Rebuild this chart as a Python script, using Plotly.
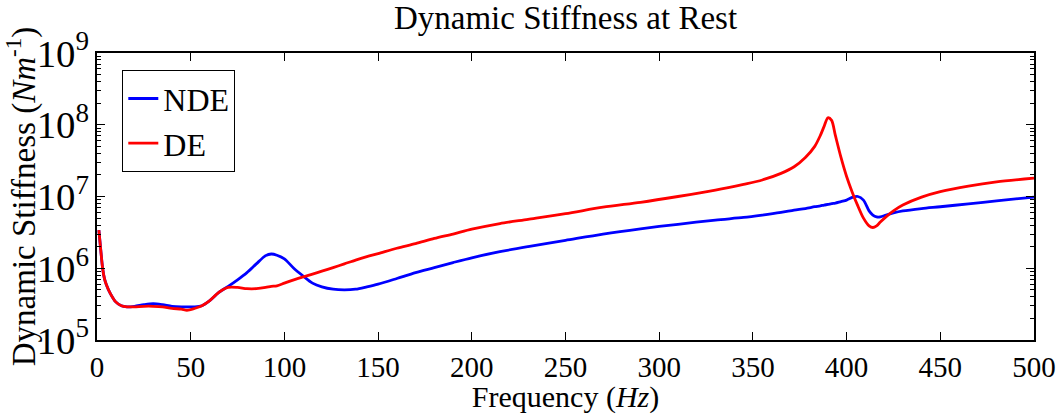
import plotly.graph_objects as go

# Frequency axis (Hz)
freq = [1, 2, 3, 4, 5, 7, 10, 13, 16, 20, 25, 30, 35, 40, 45, 48, 52, 56, 60, 65,
        70, 75, 80, 85, 90, 93, 96, 100, 105, 110, 115, 120, 126, 132, 138, 144,
        150, 160, 170, 180, 190, 200, 215, 230, 250, 270, 290, 310, 330, 345,
        355, 365, 372, 378, 383, 386, 388, 390, 392, 394, 397, 400, 403, 406,
        409, 412, 414, 416, 418, 421, 425, 430, 440, 450, 465, 480, 500]

# Non-drive-end stiffness (N/m)
nde = [3.4e6, 1.8e6, 1.0e6, 7.1e5, 5.9e5, 4.5e5, 3.4e5, 3.0e5, 2.9e5, 2.95e5,
       3.1e5, 3.2e5, 3.1e5, 2.95e5, 2.9e5, 2.9e5, 2.9e5, 3.0e5, 3.5e5, 4.6e5,
       5.6e5, 6.9e5, 8.7e5, 1.15e6, 1.5e6, 1.58e6, 1.52e6, 1.35e6, 1.0e6, 7.8e5,
       6.2e5, 5.5e5, 5.1e5, 5.0e5, 5.1e5, 5.5e5,
       6.0e5, 7.2e5, 8.7e5, 1.02e6, 1.2e6, 1.4e6, 1.7e6, 2.0e6, 2.45e6, 3.0e6,
       3.55e6, 4.1e6, 4.7e6, 5.1e6,
       5.5e6, 6.0e6, 6.45e6, 6.8e6, 7.2e6, 7.4e6, 7.6e6, 7.75e6, 7.95e6, 8.1e6,
       8.5e6, 8.9e6, 9.7e6, 1.0e7,
       8.9e6, 6.3e6, 5.5e6, 5.2e6, 5.2e6, 5.5e6, 5.9e6, 6.3e6, 6.8e6, 7.2e6,
       7.9e6, 8.7e6, 9.8e6]

# Drive-end stiffness (N/m)
de = [3.4e6, 1.8e6, 1.0e6, 7.1e5, 5.9e5, 4.5e5, 3.4e5, 3.0e5, 2.9e5, 2.9e5,
      2.95e5, 2.95e5, 2.9e5, 2.75e5, 2.7e5, 2.6e5, 2.75e5, 3.0e5, 3.5e5, 4.6e5,
      5.4e5, 5.4e5, 5.2e5, 5.2e5, 5.4e5, 5.6e5, 5.7e5, 6.2e5, 6.9e5, 7.6e5,
      8.3e5, 9.1e5, 1.02e6, 1.15e6, 1.3e6, 1.45e6,
      1.6e6, 1.9e6, 2.2e6, 2.6e6, 3.0e6, 3.5e6, 4.2e6, 4.8e6, 5.75e6, 7.1e6,
      8.3e6, 1.0e7, 1.23e7, 1.48e7,
      1.7e7, 2.1e7, 2.6e7, 3.5e7, 5.0e7, 7.1e7, 9.5e7, 1.25e8, 1.15e8, 7.1e7,
      3.5e7, 1.9e7, 1.15e7, 7.4e6,
      5.0e6, 3.9e6, 3.7e6, 3.9e6, 4.4e6, 5.2e6, 6.3e6, 7.6e6, 9.8e6, 1.17e7,
      1.4e7, 1.6e7, 1.8e7]

FONT = "Liberation Serif"

fig = go.Figure()
fig.add_trace(go.Scatter(x=freq, y=nde, mode="lines", name="NDE",
                         line=dict(color="#0000ff", width=2.8, shape="spline",
                                   smoothing=0.8)))
fig.add_trace(go.Scatter(x=freq, y=de, mode="lines", name="DE",
                         line=dict(color="#ff0000", width=2.8, shape="spline",
                                   smoothing=0.8)))

axis_common = dict(
    showline=True, linecolor="black", linewidth=1.5, mirror="ticks",
    ticks="inside", tickcolor="black", showgrid=False, zeroline=False,
    automargin=False,
)

fig.update_layout(
    width=1064, height=414,
    margin=dict(l=97, r=30, t=53, b=74, autoexpand=False),
    paper_bgcolor="white", plot_bgcolor="white",
    font=dict(family=FONT, color="black"),
    title=dict(text="Dynamic Stiffness at Rest", x=0.5315, xanchor="center",
               y=0.985, yanchor="top", automargin=False,
               font=dict(family=FONT, size=33, color="black")),
    showlegend=True,
    legend=dict(x=0.027, y=0.94, xanchor="left", yanchor="top",
                bordercolor="black", borderwidth=1, bgcolor="white",
                font=dict(family=FONT, size=32, color="black"),
                tracegroupgap=0, itemwidth=30),
    xaxis=dict(range=[0, 500], dtick=50, tick0=0, ticklen=8,
               tickfont=dict(family=FONT, size=29, color="black"),
               ticklabelstandoff=0,
               title=dict(text="Frequency (<i>Hz</i>)", standoff=7,
                          font=dict(family=FONT, size=30, color="black")),
               **axis_common),
    yaxis=dict(type="log", range=[5, 9], dtick=1, ticklen=8,
               exponentformat="power", showexponent="all",
               tickfont=dict(family=FONT, size=31, color="black"),
               minor=dict(ticks="inside", ticklen=4, tickcolor="black", dtick="D1",
                          showgrid=False),
               title=dict(text="Dynamic Stiffness (<i>Nm</i><sup>-1</sup>)", standoff=2,
                          font=dict(family=FONT, size=33, color="black")),
               **axis_common),
)

fig.write_html("out.html")
